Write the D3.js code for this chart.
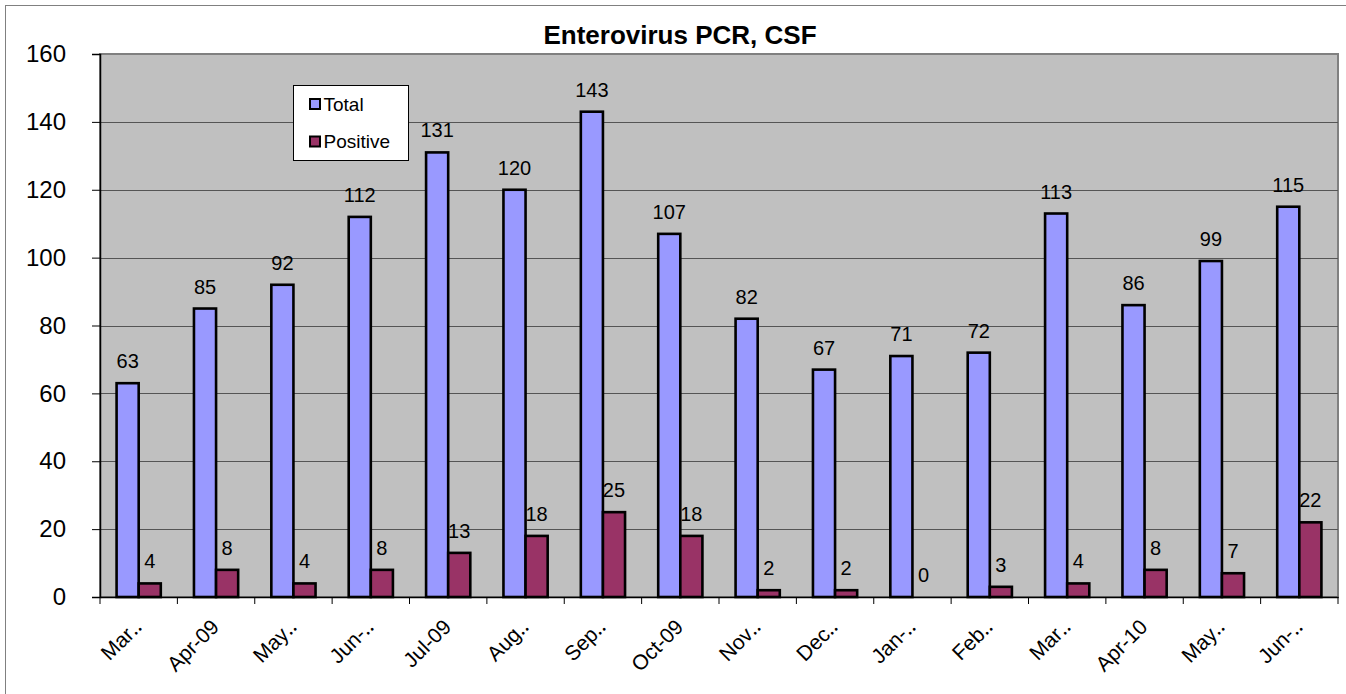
<!DOCTYPE html>
<html>
<head>
<meta charset="utf-8">
<script src="https://cdnjs.cloudflare.com/ajax/libs/d3/7.8.5/d3.min.js"></script>
<style>
  body { margin: 0; background: #fff; }
  svg { display: block; font-family: Arial, "Liberation Sans", sans-serif; }
</style>
</head>
<body>
<div id="chart"></div>
<script>
// chart data
var months = ["Mar\u2025", "Apr-09", "May\u2025", "Jun-\u2025", "Jul-09", "Aug\u2025", "Sep\u2025", "Oct-09",
              "Nov\u2025", "Dec\u2025", "Jan-\u2025", "Feb\u2025", "Mar\u2025", "Apr-10", "May\u2025", "Jun-\u2025"];
var totals = [63, 85, 92, 112, 131, 120, 143, 107, 82, 67, 71, 72, 113, 86, 99, 115];
var positives = [4, 8, 4, 8, 13, 18, 25, 18, 2, 2, 0, 3, 4, 8, 7, 22];
var yTicks = [0, 20, 40, 60, 80, 100, 120, 140, 160];
var seriesNames = ["Total", "Positive"];
var seriesColors = ["#9999ff", "#993366"];

var width = 1346, height = 694;
var plot = {left: 100, top: 54, right: 1338, bottom: 597};
var font = 'Arial, "Liberation Sans", sans-serif';

var svg = d3.select('#chart').append('svg')
    .attr('width', width)
    .attr('height', height);

// outer chart frame
svg.append('rect')
    .attr('x', 5.5).attr('y', 5.5)
    .attr('width', 1345).attr('height', 700)
    .style('fill', '#fff')
    .style('stroke', '#808080')
    .style('stroke-width', 1);

var x = d3.scaleBand()
    .domain(d3.range(months.length))
    .range([plot.left, plot.right]);

var groupWidth = x.bandwidth() * 2 / 3.5;   // gap width 150%
var x1 = d3.scaleBand()
    .domain([0, 1])
    .range([0, groupWidth]);

var y = d3.scaleLinear()
    .domain([0, 160])
    .range([plot.bottom, plot.top]);

// plot area
svg.append('rect')
    .attr('x', plot.left).attr('y', plot.top)
    .attr('width', plot.right - plot.left).attr('height', plot.bottom - plot.top)
    .style('fill', '#c0c0c0')
    .style('stroke', '#808080')
    .style('stroke-width', 2);

// gridlines
svg.append('g').selectAll('line')
    .data(yTicks.filter(function (d) { return d > 0 && d < 160; }))
    .enter().append('line')
    .attr('x1', plot.left).attr('x2', plot.right)
    .attr('y1', function (d) { return Math.round(y(d)) + 0.5; })
    .attr('y2', function (d) { return Math.round(y(d)) + 0.5; })
    .style('stroke', '#555')
    .style('stroke-width', 1);

// bars
var groups = svg.append('g').selectAll('g')
    .data(months)
    .enter().append('g')
    .attr('transform', function (d, i) {
        return 'translate(' + (x(i) + (x.bandwidth() - groupWidth) / 2) + ',0)';
    });

[totals, positives].forEach(function (series, s) {
    groups.append('rect')
        .attr('x', x1(s))
        .attr('y', function (d, i) { return y(series[i]); })
        .attr('width', x1.bandwidth())
        .attr('height', function (d, i) { return y(0) - y(series[i]); })
        .style('fill', seriesColors[s])
        .style('stroke', '#000')
        .style('stroke-width', 2.6);

    groups.append('text')
        .attr('x', x1(s) + x1.bandwidth() / 2)
        .attr('y', function (d, i) { return y(series[i]) - 15; })
        .attr('text-anchor', 'middle')
        .style('font-size', '20px')
        .text(function (d, i) { return series[i]; });
});

// y axis
var yAxis = svg.append('g')
    .attr('transform', 'translate(' + plot.left + ',0)')
    .call(d3.axisLeft(y).tickValues(yTicks).tickSize(8).tickPadding(26));
yAxis.select('.domain').style('stroke', '#000').style('stroke-width', 1.5);
yAxis.selectAll('.tick line').style('stroke', '#000');
yAxis.selectAll('.tick text')
    .style('font-size', '24px')
    .style('font-family', font)
    .attr('fill', '#000');

// x axis
var xAxis = svg.append('g')
    .attr('transform', 'translate(0,' + plot.bottom + ')')
    .call(d3.axisBottom(x).tickSize(0).tickFormat(function (i) { return months[i]; }));
xAxis.select('.domain').style('stroke', '#000').style('stroke-width', 1.5);
xAxis.selectAll('.tick text')
    .style('font-size', '21px')
    .style('font-family', font)
    .attr('fill', '#000')
    .attr('text-anchor', 'end')
    .attr('transform', 'translate(-1,26) rotate(-45)')
    .attr('dy', '0.35em')
    .attr('y', 0);

// x tick marks at category boundaries
svg.append('g').selectAll('line')
    .data(d3.range(months.length + 1))
    .enter().append('line')
    .attr('x1', function (i) { return plot.left + i * x.step(); })
    .attr('x2', function (i) { return plot.left + i * x.step(); })
    .attr('y1', plot.bottom)
    .attr('y2', plot.bottom + 7)
    .style('stroke', '#000');

// title
svg.append('text')
    .attr('x', 680)
    .attr('y', 44)
    .attr('text-anchor', 'middle')
    .style('font-size', '26px')
    .style('font-weight', 'bold')
    .text('Enterovirus PCR, CSF');

// legend
var legend = svg.append('g').attr('transform', 'translate(293.5,85.5)');
legend.append('rect')
    .attr('width', 115).attr('height', 75)
    .style('fill', '#fff')
    .style('stroke', '#000')
    .style('stroke-width', 1);
seriesNames.forEach(function (name, i) {
    legend.append('rect')
        .attr('x', 16.5).attr('y', 13.5 + i * 37.5)
        .attr('width', 10).attr('height', 10)
        .style('fill', seriesColors[i])
        .style('stroke', '#000')
        .style('stroke-width', 2);
    legend.append('text')
        .attr('x', 30).attr('y', 25 + i * 37.5)
        .style('font-size', '19px')
        .text(name);
});
</script>
</body>
</html>
